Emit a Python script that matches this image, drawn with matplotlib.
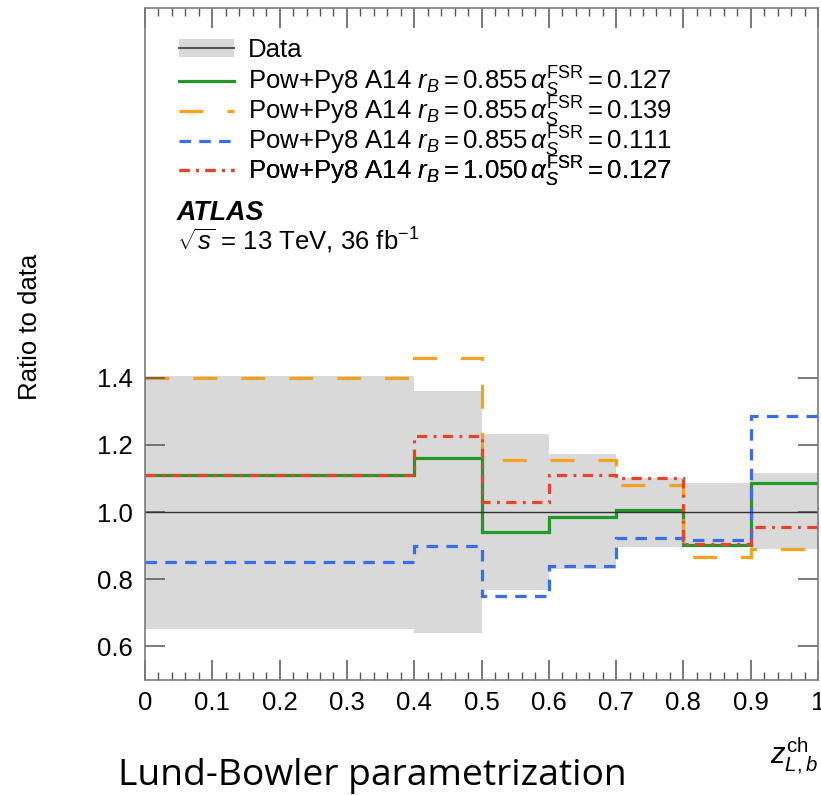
import numpy as np
import matplotlib
matplotlib.use("Agg")
import matplotlib.pyplot as plt
from matplotlib.lines import Line2D
from matplotlib.ticker import FixedLocator, MultipleLocator, FuncFormatter

plt.rcParams['font.family'] = ['Liberation Sans', 'DejaVu Sans']
plt.rcParams['mathtext.fontset'] = 'custom'
plt.rcParams['mathtext.rm'] = 'Liberation Sans'
plt.rcParams['mathtext.it'] = 'Liberation Sans:italic'
plt.rcParams['mathtext.bf'] = 'Liberation Sans:bold'

# bin edges in z_L,b^ch
edges = [0.0, 0.4, 0.5, 0.6, 0.7, 0.8, 0.9, 1.0]

# data uncertainty band (ratio to data)
data_lo = [0.653, 0.639, 0.768, 0.830, 0.895, 0.896, 0.890]
data_hi = [1.404, 1.359, 1.231, 1.173, 1.100, 1.087, 1.115]

# MC / data ratios
r_a127 = [1.111, 1.160, 0.941, 0.986, 1.006, 0.902, 1.087]   # rB=0.855, aS=0.127
r_a139 = [1.400, 1.457, 1.155, 1.155, 1.081, 0.866, 0.890]   # rB=0.855, aS=0.139
r_a111 = [0.850, 0.898, 0.750, 0.838, 0.922, 0.917, 1.286]   # rB=0.855, aS=0.111
r_rb105 = [1.111, 1.225, 1.029, 1.110, 1.101, 0.905, 0.956]  # rB=1.050, aS=0.127

labels = [r"Pow+Py8 A14 $r_B = 0.855\,\alpha_S^{\mathrm{FSR}} = 0.127$",
          r"Pow+Py8 A14 $r_B = 0.855\,\alpha_S^{\mathrm{FSR}} = 0.139$",
          r"Pow+Py8 A14 $r_B = 0.855\,\alpha_S^{\mathrm{FSR}} = 0.111$",
          r"Pow+Py8 A14 $r_B = 1.050\,\alpha_S^{\mathrm{FSR}} = 0.127$"]

fig = plt.figure(figsize=(8.21, 7.95), dpi=100)
ax = fig.add_axes([145/821, 1-680/795, 673/821, 672/795])

band_col = '#d9d9d9'
ax.stairs(data_hi, edges, baseline=data_lo, fill=True, color=band_col, lw=0)
ax.axhline(1.0, color='#333333', lw=1.0)

lw = 2.3
h1 = ax.stairs(r_a127, edges, baseline=None, color='#23982a', lw=lw)
h2 = ax.stairs(r_a139, edges, baseline=None, color='#f8a11c', lw=lw, linestyle=(0, (7.5, 7.5)))
h3 = ax.stairs(r_a111, edges, baseline=None, color='#3a6cf0', lw=lw, linestyle=(0, (3.6, 2.6)))
h4 = ax.stairs(r_rb105, edges, baseline=None, color='#e5432c', lw=lw,
               linestyle=(0, (3.2, 2.0, 0.9, 2.0)))

ax.set_xlim(0, 1)
ax.set_ylim(0.5, 2.5)

ax.xaxis.set_major_locator(MultipleLocator(0.1))
ax.xaxis.set_minor_locator(MultipleLocator(0.02))
ax.xaxis.set_major_formatter(FuncFormatter(lambda v, p: '%g' % round(v, 2)))
ax.yaxis.set_major_locator(FixedLocator([0.6, 0.8, 1.0, 1.2, 1.4]))
ax.yaxis.set_major_formatter(FuncFormatter(lambda v, p: '%.1f' % v))
ax.tick_params(which='both', direction='in', top=True, right=True,
               color='#555555', labelsize=18.5)
ax.tick_params(which='major', length=14.5, width=1.1)
ax.tick_params(which='minor', length=5.8, width=1.0)
ax.tick_params(axis='x', pad=8)
ax.tick_params(axis='y', pad=9)
for s in ax.spines.values():
    s.set_color('#7a7a7a')
    s.set_linewidth(1.2)

ax.set_ylabel('Ratio to data', fontsize=18.5, loc='top')
ax.yaxis.set_label_coords(-0.171, 0.635)
ax.yaxis.label.set_va('center')
ax.set_xlabel(r'$z^{\mathrm{ch}}_{L,b}$', fontsize=21, loc='right')
ax.xaxis.set_label_coords(1.0, -0.082)

# legend, one row per entry so the row spacing is even
data_h = (Line2D([], [], color=band_col, lw=13, solid_capstyle='butt'),
          Line2D([], [], color='#555555', lw=1.5))
handles = [data_h, h1, h2, h3, h4]
names = ['Data'] + labels
for i, (h, n) in enumerate(zip(handles, names)):
    if i == 0:
        yy = 0.937
    else:
        yy = 0.8893 - (i - 1) * 0.0442
    lg = ax.legend([h], [n], loc='center left', bbox_to_anchor=(0.0505, yy),
                   frameon=False, fontsize=18.5, handlelength=2.15,
                   handletextpad=0.55, borderaxespad=0, borderpad=0)
    ax.add_artist(lg)

ax.text(0.047, 0.695, 'ATLAS', transform=ax.transAxes, fontsize=19.3,
        fontweight='bold', style='italic', va='center', ha='left')
ax.text(0.047, 0.653, r'$\sqrt{s}$ = 13 TeV, 36 fb$^{-1}$', transform=ax.transAxes,
        fontsize=18.5, va='center', ha='left')

fig.text(118/821, 1-776/795, 'Lund-Bowler parametrization', family='Open Sans',
         fontsize=26.8, va='center', ha='left')

fig.savefig('out.png', dpi=100)
